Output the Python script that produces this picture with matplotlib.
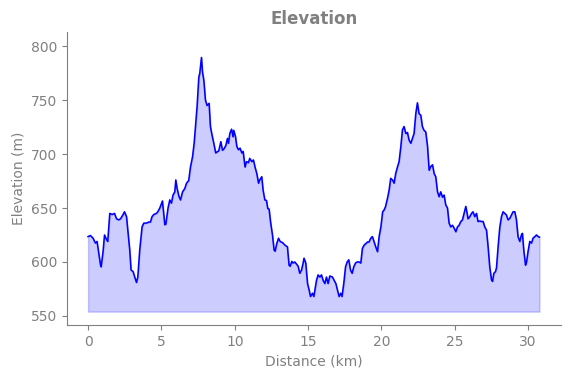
import matplotlib
matplotlib.use("Agg")
import matplotlib.pyplot as plt
import numpy as np

# distance along the route (km) and elevation (m)
dist_km = [
    0.00, 0.16, 0.34, 0.50, 0.61, 0.73, 0.85, 0.89, 1.02, 1.12, 1.25, 1.34, 1.48, 1.64, 1.80, 1.94,
    2.09, 2.21, 2.39, 2.48, 2.62, 2.71, 2.84, 2.93, 3.07, 3.18, 3.30, 3.39, 3.52, 3.68, 3.80, 3.98,
    4.14, 4.25, 4.36, 4.48, 4.66, 4.75, 4.89, 5.07, 5.23, 5.30, 5.45, 5.57, 5.68, 5.79, 5.91, 5.98,
    6.07, 6.20, 6.30, 6.44, 6.59, 6.71, 6.86, 6.98, 7.12, 7.23, 7.34, 7.43, 7.55, 7.61, 7.73, 7.80,
    7.89, 8.00, 8.11, 8.25, 8.34, 8.45, 8.57, 8.70, 8.79, 8.91, 9.05, 9.16, 9.27, 9.39, 9.50, 9.57,
    9.66, 9.78, 9.88, 9.93, 10.05, 10.14, 10.25, 10.36, 10.48, 10.57, 10.70, 10.80, 10.93, 11.02,
    11.16, 11.27, 11.38, 11.50, 11.62, 11.70, 11.84, 11.93, 12.05, 12.16, 12.25, 12.34, 12.45,
    12.57, 12.68, 12.75, 12.86, 12.98, 13.09, 13.25, 13.43, 13.59, 13.70, 13.77, 13.89, 13.98,
    14.09, 14.21, 14.32, 14.43, 14.55, 14.66, 14.72, 14.84, 14.96, 15.07, 15.16, 15.30, 15.39,
    15.57, 15.68, 15.80, 15.91, 16.02, 16.14, 16.25, 16.36, 16.48, 16.66, 16.77, 16.89, 17.00,
    17.11, 17.22, 17.31, 17.43, 17.55, 17.66, 17.77, 17.89, 18.00, 18.11, 18.23, 18.34, 18.47,
    18.59, 18.70, 18.81, 18.93, 19.05, 19.15, 19.27, 19.38, 19.50, 19.61, 19.73, 19.84, 19.96,
    20.08, 20.17, 20.27, 20.41, 20.52, 20.63, 20.75, 20.86, 20.97, 21.09, 21.20, 21.32, 21.43,
    21.54, 21.66, 21.77, 21.88, 22.00, 22.11, 22.22, 22.34, 22.45, 22.56, 22.68, 22.79, 22.90,
    23.02, 23.14, 23.25, 23.36, 23.48, 23.59, 23.70, 23.82, 23.93, 24.04, 24.16, 24.27, 24.38,
    24.50, 24.61, 24.72, 24.84, 24.95, 25.07, 25.18, 25.29, 25.41, 25.52, 25.63, 25.75, 25.84,
    25.90, 26.02, 26.14, 26.24, 26.36, 26.48, 26.58, 26.70, 26.82, 26.93, 27.04, 27.16, 27.27,
    27.38, 27.50, 27.57, 27.66, 27.77, 27.84, 27.95, 28.06, 28.18, 28.29, 28.41, 28.52, 28.63,
    28.75, 28.86, 28.97, 29.09, 29.20, 29.31, 29.43, 29.54, 29.61, 29.70, 29.82, 29.89, 29.99,
    30.11, 30.23, 30.33, 30.45, 30.57, 30.68, 30.77,
]
elev_m = [
    623.5, 624.5, 622, 617.5, 619, 608, 597, 595.5, 609.5, 625, 621, 619, 645, 644, 645, 640,
    639, 640, 644, 646.5, 642, 629.5, 611, 592.5, 591, 586, 581, 586, 611, 632.5, 636, 636,
    637, 637, 642, 644, 645, 646.5, 650, 656.5, 634.5, 635, 650, 657.5, 654.5, 662, 665, 676,
    668, 660.5, 657.5, 665, 668, 673, 675.5, 688, 697.5, 710, 728.5, 744, 771.5, 774.5, 789.5, 776,
    768.5, 750, 745, 747, 725.5, 717.5, 710, 701, 702, 703, 711.5, 703.5, 705, 708, 714.5, 710,
    719, 723, 716, 722, 716, 707, 704, 705.5, 701, 702.5, 688, 693, 692, 696,
    693, 694.5, 688, 682, 673, 676, 679, 666.5, 657.5, 657, 649.5, 649, 636,
    625, 611, 610, 617, 622, 619, 618, 615.5, 614, 597, 596, 600.5, 599,
    600, 598, 596, 589.5, 592.5, 599, 603.5, 599, 580, 574, 568, 571, 568,
    583, 588, 586, 588, 583, 580, 586, 580, 587, 586, 583, 580, 574,
    568, 571, 568, 580, 595.5, 600, 602, 592.5, 589.5, 595.5, 599, 600, 600,
    599, 612.5, 615.5, 617, 618.5, 618.5, 622, 623.5, 618.5, 614, 609.5, 623.5, 632.5,
    646.5, 648, 651, 659, 666.5, 677.5, 676, 673, 682, 688, 693, 707, 722.5,
    725.5, 719, 720, 713, 710, 714.5, 719, 737.5, 747.5, 737.5, 736, 725.5, 722,
    720.5, 707, 685, 688.5, 690, 682, 679, 665, 660.5, 665, 660, 662, 653,
    650, 636, 632.5, 634, 631.5, 628, 632.5, 634, 637.5, 639, 645, 651.5, 645,
    640, 642, 645, 646.5, 642, 645, 637.5, 638, 637.5, 637.5, 632.5, 629.5, 614,
    595.5, 583.5, 582, 589.5, 591, 594.5, 614, 631.5, 642, 646.5, 645, 643.5, 639,
    640.5, 643.5, 646.5, 646.5, 639, 623.5, 619, 625, 626.5, 611, 597, 600, 609.5,
    619, 617.5, 622, 623.5, 625, 623.5, 623,
]
fill_base = 554

dist = np.array(dist_km)
elev = np.array(elev_m)

fig, ax = plt.subplots(figsize=(5.71, 3.78), dpi=100)
fig.subplots_adjust(left=0.117, right=0.982, top=0.915, bottom=0.140)

ax.fill_between(dist, elev, fill_base, color='blue', alpha=0.2)
ax.plot(dist, elev, color='blue', linewidth=1.15)

ax.set_xlim(-1.45, 32.22)
ax.set_ylim(541.5, 813)
ax.set_title("Elevation", fontsize=12, fontweight='bold', color='gray')
ax.set_xlabel("Distance (km)", color='gray')
ax.set_ylabel("Elevation (m)", color='gray')

for side in ['top', 'right']:
    ax.spines[side].set_visible(False)
for side in ['left', 'bottom']:
    ax.spines[side].set_color('gray')
ax.tick_params(colors='gray')

fig.savefig("out.png", dpi=100)
